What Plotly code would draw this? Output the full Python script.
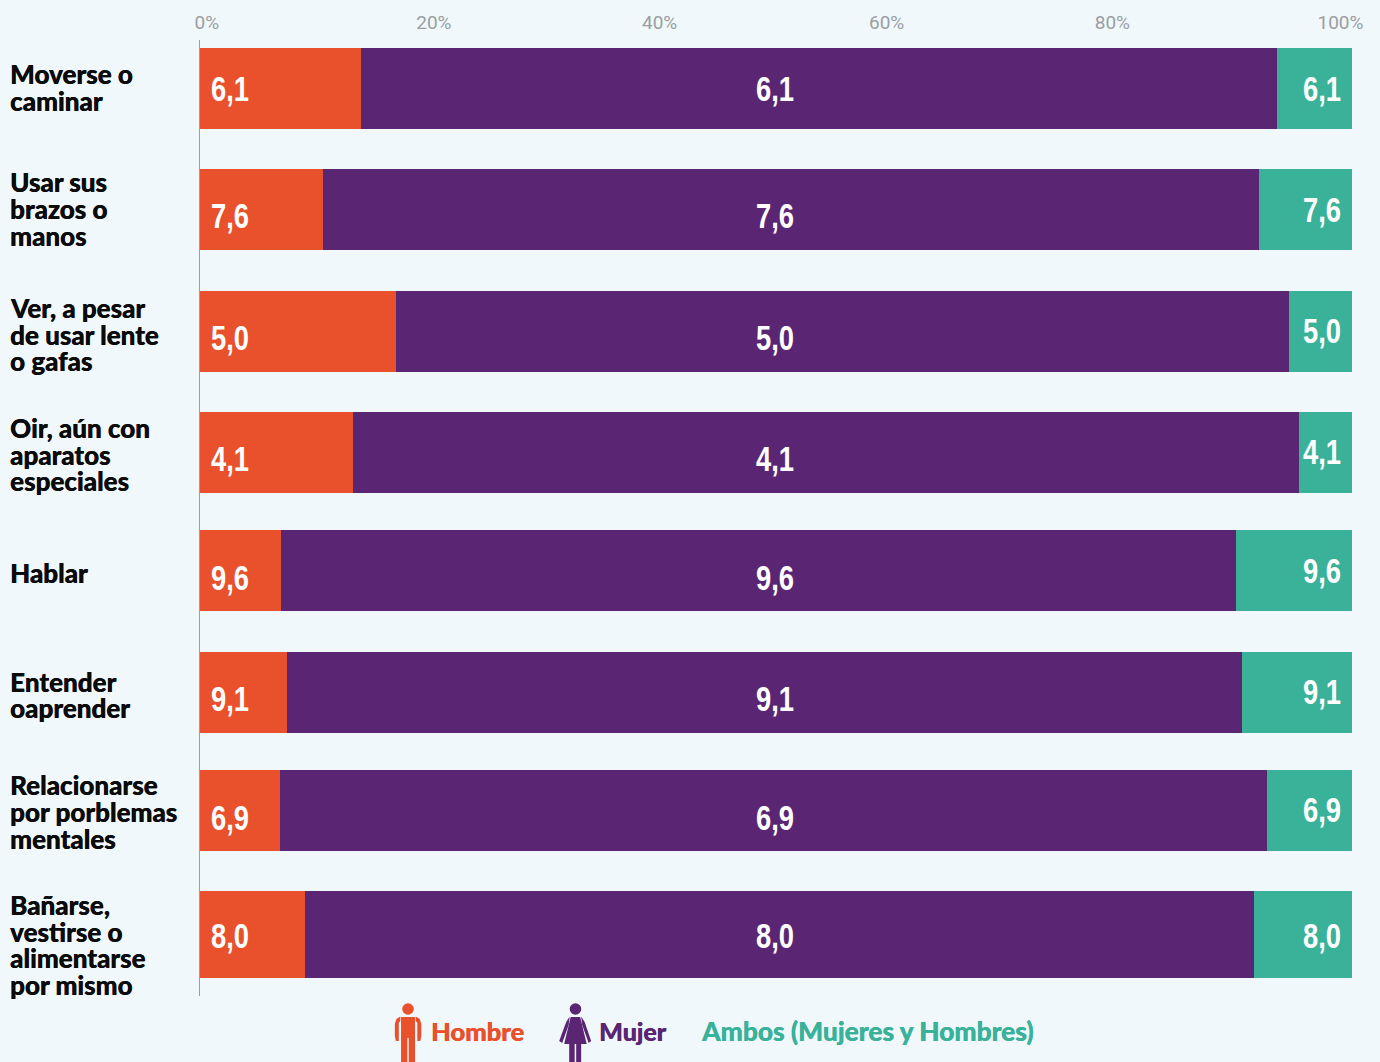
import plotly.graph_objects as go

W, H = 1380, 1062
BG = "#F0F8FC"
ORANGE, PURPLE, GREEN = "#E9502C", "#5A2674", "#3AB299"

categories = [
    ["Moverse o", "caminar"],
    ["Usar sus", "brazos o", "manos"],
    ["Ver, a pesar", "de usar lente", "o gafas"],
    ["Oir, aún con", "aparatos", "especiales"],
    ["Hablar"],
    ["Entender", "oaprender"],
    ["Relacionarse", "por porblemas", "mentales"],
    ["Bañarse,", "vestirse o", "alimentarse", "por mismo"],
]
hombre = [13.96, 10.67, 17.04, 13.30, 7.03, 7.55, 6.98, 9.10]
mujer = [79.56, 81.26, 77.48, 82.12, 82.91, 82.90, 85.62, 82.40]
ambos = [6.48, 8.07, 5.48, 4.58, 10.06, 9.55, 7.40, 8.50]
labels = ["6,1", "7,6", "5,0", "4,1", "9,6", "9,1", "6,9", "8,0"]
tick_labels = ["0%", "20%", "40%", "60%", "80%", "100%"]

row_y = [88.5, 209.5, 331, 452, 570.5, 692, 810.5, 934.5]
row_h = [81, 81, 81, 81, 81, 81, 81, 87]
side_lab_y = [87.5, 209, 334.5, 454.5, 573, 695, 812, 945]
low_lab_y = [88, 215, 337, 458, 577, 698, 817, 935]
green_lab_y = [88, 209, 330, 451, 570, 691, 809, 935]
tick_pos = [0.6, 20.3, 39.9, 59.6, 79.2, 99.0]

TOP, BOT, LEFT, RIGHT = 40, 996, 199.5, 1352.5


def px(v):
    return (v - LEFT) / (RIGHT - LEFT)


def py(v):
    return (BOT - v) / (BOT - TOP)


fig = go.Figure()
for name, vals, col in [("Hombre", hombre, ORANGE), ("Mujer", mujer, PURPLE),
                        ("Ambos (Mujeres y Hombres)", ambos, GREEN)]:
    fig.add_bar(y=row_y, x=vals, width=row_h, orientation="h", name=name,
                marker=dict(color=col, line=dict(width=0)), showlegend=False)

NUM = dict(family="Liberation Sans", size=36, color="white", weight=700)
LAB = dict(family="Lato", size=26, color="#0B0B0B", weight=900, shadow="0.35px 0 0 #0B0B0B")
ann = []
for i, lab in enumerate(labels):
    ann.append(dict(x=0.75, y=low_lab_y[i], text=lab, xanchor="left", font=NUM, showarrow=False, xref="x", yref="y"))
    ann.append(dict(x=49.95, y=low_lab_y[i], text=lab, xanchor="center", font=NUM, showarrow=False, xref="x", yref="y"))
    ann.append(dict(x=99.25, y=green_lab_y[i], text=lab, xanchor="right", font=NUM, showarrow=False, xref="x", yref="y"))
    lines = categories[i]
    for j, line in enumerate(lines):
        yy = side_lab_y[i] + (j - (len(lines) - 1) / 2) * 26.7
        ann.append(dict(xref="paper", x=px(7.5), y=yy, yref="y", text=line,
                        xanchor="left", yanchor="middle", font=LAB, showarrow=False, align="left"))

for text, x, col, size in [("Hombre", 429, ORANGE, 25.5), ("Mujer", 597, PURPLE, 25),
                           ("Ambos (Mujeres y Hombres)", 699, GREEN, 26.3)]:
    ann.append(dict(xref="paper", x=px(x), yref="paper", y=py(1031), text=text,
                    xanchor="left", yanchor="middle", showarrow=False,
                    font=dict(family="Lato", size=size, color=col, weight=900, shadow=f"0.35px 0 0 {col}")))

shapes = []


def circle(cx, cy, r, col):
    shapes.append(dict(type="circle", xref="paper", yref="paper", x0=px(cx - r), x1=px(cx + r),
                       y0=py(cy + r), y1=py(cy - r), fillcolor=col, line_width=0))


def poly(points, col):
    d = "M" + " L".join(f"{px(a):.5f},{py(b):.5f}" for a, b in points) + " Z"
    shapes.append(dict(type="path", xref="paper", yref="paper", path=d, fillcolor=col, line_width=0))


# man icon
circle(407.7, 1009, 5.8, ORANGE)
poly([(400.7, 1017), (414.7, 1017), (414.7, 1062), (408.4, 1062), (408.4, 1038), (407, 1038), (407, 1062), (400.7, 1062)], ORANGE)
poly([(400, 1016.5), (400, 1021), (398.5, 1023), (398.5, 1041), (395.5, 1041), (394.5, 1036), (394.5, 1024), (396, 1019)], ORANGE)
poly([(415.4, 1016.5), (415.4, 1021), (417, 1023), (417, 1041), (420, 1041), (421, 1036), (421, 1024), (419.5, 1019)], ORANGE)
# woman icon
circle(575.3, 1009, 5.8, PURPLE)
poly([(570.5, 1017), (580, 1017), (586.5, 1044), (564, 1044)], PURPLE)
poly([(569.5, 1016.5), (566, 1022), (559, 1041), (562, 1043), (568.5, 1025)], PURPLE)
poly([(581, 1016.5), (584.5, 1022), (591, 1041), (588.5, 1043), (582, 1025)], PURPLE)
poly([(569, 1044), (574.5, 1044), (574.5, 1062), (569, 1062)], PURPLE)
poly([(576, 1044), (581, 1044), (581, 1062), (576, 1062)], PURPLE)

fig.update_layout(
    width=W, height=H, autosize=False, paper_bgcolor=BG, plot_bgcolor=BG,
    margin=dict(l=LEFT, r=W - RIGHT, t=TOP, b=H - BOT, pad=0),
    barmode="stack", bargap=0, annotations=ann, shapes=shapes,
    xaxis=dict(range=[0, 100], side="top", tickvals=tick_pos, ticktext=tick_labels, showgrid=False,
               zeroline=False, showline=False, ticks="", ticklabelstandoff=6,
               tickfont=dict(family="Roboto", size=19, color="#9A9EA1"), automargin=False),
    yaxis=dict(range=[BOT, TOP], showticklabels=False, showgrid=False, zeroline=False, showline=True,
               linecolor="#9A9EA1", linewidth=1, ticks="", automargin=False),
)

# Narrow the value labels horizontally, as no condensed bold face is installed.
POST = """
document.body.style.margin='0';document.body.style.background='%s';
document.querySelectorAll('.annotation-text').forEach(function(t){
  if(!/^[0-9],[0-9]$/.test(t.textContent)) return;
  var r=t.getBoundingClientRect(), b=t.getBBox();
  var cx = r.left<400 ? b.x : (r.left>1000 ? b.x+b.width : b.x+b.width/2);
  t.setAttribute('transform','translate('+cx+',0) scale(0.76,1) translate('+(-cx)+',0)');
});
""" % BG
fig.write_html("out.html", post_script=POST, config={"displayModeBar": False})
